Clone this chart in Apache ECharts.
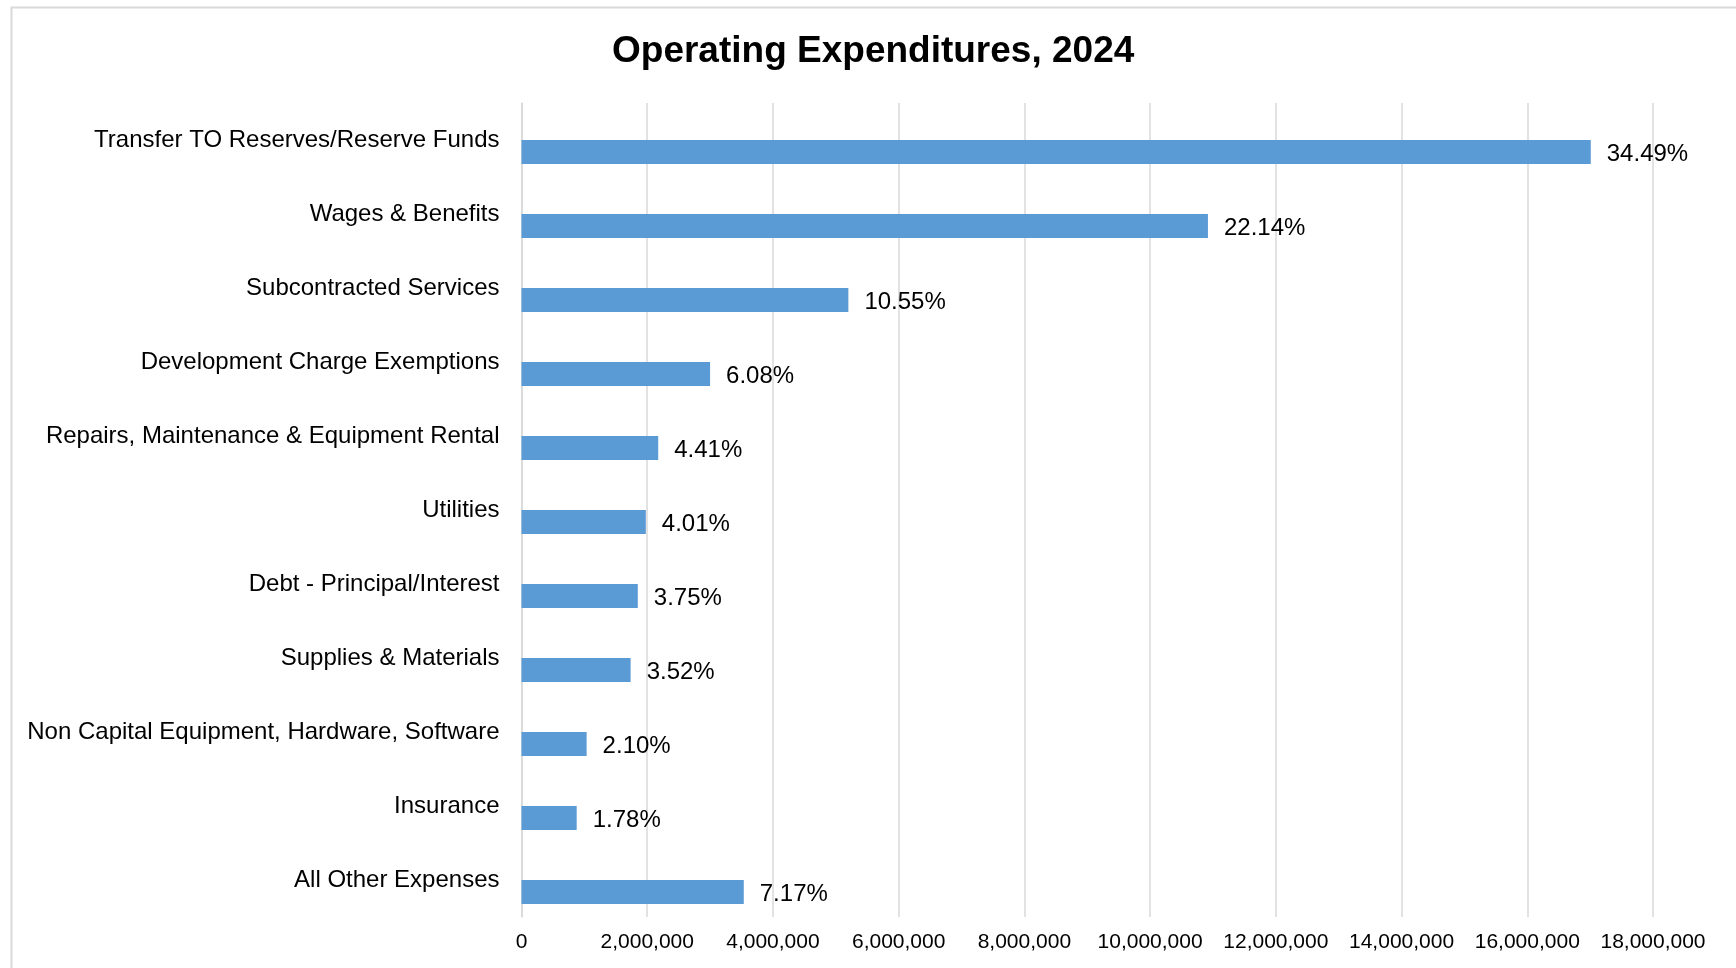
<!DOCTYPE html>
<html>
<head>
<meta charset="utf-8">
<script src="https://cdn.jsdelivr.net/npm/echarts@6/dist/echarts.min.js"></script>
<style>
html,body{margin:0;padding:0;background:#fff;}
#chart{width:1736px;height:968px;}
</style>
</head>
<body>
<div id="chart"></div>
<script>
var categories = [
  "Transfer TO Reserves/Reserve Funds",
  "Wages & Benefits",
  "Subcontracted Services",
  "Development Charge Exemptions",
  "Repairs, Maintenance & Equipment Rental",
  "Utilities",
  "Debt - Principal/Interest",
  "Supplies & Materials",
  "Non Capital Equipment, Hardware, Software",
  "Insurance",
  "All Other Expenses"
];
var amounts = [17010000, 10920000, 5200000, 3000000, 2175000, 1978000, 1850000, 1736000, 1036000, 878000, 3536000];
var percentLabels = ["34.49%", "22.14%", "10.55%", "6.08%", "4.41%", "4.01%", "3.75%", "3.52%", "2.10%", "1.78%", "7.17%"];
var xTicks = [0, 2000000, 4000000, 6000000, 8000000, 10000000, 12000000, 14000000, 16000000, 18000000];
var placeholder = categories.map(function(){ return null; });

var FONT = "'Liberation Sans', Arial, sans-serif";
var chart = echarts.init(document.getElementById('chart'), null, {renderer: 'canvas'});
chart.setOption({
  backgroundColor: '#ffffff',
  animation: false,
  graphic: [{
    type: 'rect',
    shape: {x: 11.5, y: 7.5, width: 1800, height: 1000},
    style: {fill: 'none', stroke: '#d9d9d9', lineWidth: 2},
    silent: true, z: -10
  }],
  title: {
    text: 'Operating Expenditures, 2024',
    left: 612,
    top: 33,
    padding: 0,
    textStyle: {fontFamily: FONT, fontSize: 37, fontWeight: 'bold', color: '#000'}
  },
  grid: {left: 521.5, right: 83, top: 103, bottom: 51, containLabel: false},
  xAxis: {
    type: 'value',
    min: xTicks[0],
    max: xTicks[xTicks.length - 1],
    interval: xTicks[1] - xTicks[0],
    axisLine: {show: false},
    axisTick: {show: false},
    splitLine: {show: true, lineStyle: {color: '#d9d9d9', width: 1.5}},
    axisLabel: {
      fontFamily: FONT, fontSize: 21, color: '#000', margin: 15,
      formatter: function(v){ return v.toString().replace(/\B(?=(\d{3})+(?!\d))/g, ','); }
    }
  },
  yAxis: {
    type: 'category',
    data: categories,
    inverse: true,
    axisLine: {show: true, lineStyle: {color: '#d9d9d9', width: 1.5}},
    axisTick: {show: false},
    axisLabel: {fontFamily: FONT, fontSize: 24, color: '#000', margin: 22}
  },
  series: [
    {
      name: 'spacer',
      type: 'bar',
      data: placeholder,
      barWidth: 24,
      barGap: '0%',
      silent: true
    },
    {
      name: 'Operating Expenditures',
      type: 'bar',
      data: amounts,
      barWidth: 24,
      barGap: '0%',
      itemStyle: {color: '#5b9bd5'},
      label: {
        show: true,
        position: 'right',
        distance: 16,
        offset: [0, 2],
        fontFamily: FONT,
        fontSize: 24,
        color: '#000',
        formatter: function(p){ return percentLabels[p.dataIndex]; }
      }
    }
  ]
});
</script>
</body>
</html>
